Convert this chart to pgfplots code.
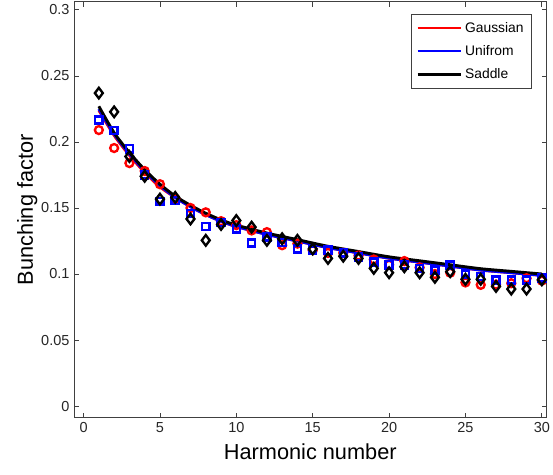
\documentclass[border=0pt]{standalone}
\usepackage{pgfplots}
\pgfplotsset{compat=1.18}
\usepackage{fontspec}
\setmainfont{Liberation Sans}
\begin{document}
\begin{tikzpicture}
\begin{axis}[
  scale only axis,
  width=358.5pt, height=315.75pt,
  xmin=-0.62, xmax=30.3,
  ymin=-0.009, ymax=0.306,
  xtick={0,5,...,30},
  ytick={0,0.05,0.1,0.15,0.2,0.25,0.3},
  /pgf/number format/assume math mode=true,
  yticklabel style={/pgf/number format/fixed,/pgf/number format/precision=2},
  scaled y ticks=false,
  tick align=inside,
  major tick length=3.5pt,
  tick style={black!75, line width=0.6pt},
  axis line style={black!75, line width=0.8pt},
  ticklabel style={font=\fontsize{11}{13}\selectfont, text=black!85},
  xlabel={Harmonic number},
  ylabel={Bunching factor},
  label style={font=\fontsize{16.5}{19}\selectfont},
  xlabel style={yshift=-1.5pt},
  ylabel style={yshift=-4pt},
  legend style={at={(1,1)}, anchor=north east, xshift=-11pt, yshift=-9pt,
    draw=black!75, line width=0.6pt, font=\fontsize{10.5}{12}\selectfont,
    inner xsep=4pt, inner ysep=4pt, row sep=4.5pt, cells={anchor=west}},
  legend image code/.code={\draw[#1, line width=1.6pt] (0cm,0cm) -- (1.17cm,0cm);},
]
% Gaussian circles
\addplot[only marks, mark=o, mark size=3pt, red, line width=1.8pt, forget plot] coordinates {
(1,0.209)(2,0.1954)(3,0.184)(4,0.178)(5,0.168)(6,0.157)(7,0.150)(8,0.1467)(9,0.140)(10,0.137)
(11,0.133)(12,0.1317)(13,0.1218)(14,0.123)(15,0.118)(16,0.116)(17,0.116)(18,0.114)(19,0.111)(20,0.107)
(21,0.1098)(22,0.105)(23,0.100)(24,0.101)(25,0.0936)(26,0.0918)(27,0.092)(28,0.093)(29,0.0968)(30,0.095)};
% Uniform squares
\addplot[only marks, mark=square, mark size=2.7pt, blue, line width=1.8pt, forget plot] coordinates {
(1,0.2166)(2,0.2086)(3,0.1948)(4,0.175)(5,0.155)(6,0.1555)(7,0.146)(8,0.136)(9,0.139)(10,0.134)
(11,0.1235)(12,0.128)(13,0.124)(14,0.119)(15,0.118)(16,0.118)(17,0.116)(18,0.113)(19,0.109)(20,0.107)
(21,0.107)(22,0.104)(23,0.103)(24,0.1068)(25,0.100)(26,0.098)(27,0.0955)(28,0.0955)(29,0.0955)(30,0.097)};
% Saddle diamonds
\addplot[only marks, mark=diamond, mark size=4pt, black, line width=1.8pt, forget plot] coordinates {
(1,0.237)(2,0.2228)(3,0.189)(4,0.174)(5,0.1567)(6,0.158)(7,0.1417)(8,0.1255)(9,0.1375)(10,0.1405)
(11,0.1355)(12,0.1255)(13,0.1267)(14,0.1255)(15,0.119)(16,0.1118)(17,0.1135)(18,0.1118)(19,0.1043)(20,0.101)
(21,0.1055)(22,0.101)(23,0.0975)(24,0.1018)(25,0.096)(26,0.096)(27,0.0906)(28,0.0886)(29,0.0886)(30,0.0956)};
% fitted lines
\addplot[red, line width=2.2pt, smooth, no marks] coordinates {
(1,0.224)(2,0.205)(3,0.190)(4,0.177)(5,0.166)(6,0.158)(7,0.151)(8,0.145)(9,0.140)(10,0.136)
(12,0.130)(14,0.125)(16,0.120)(18,0.116)(20,0.112)(22,0.109)(24,0.106)(26,0.103)(28,0.101)(30,0.099)};
\addlegendentry{Gaussian}
\addplot[blue, line width=2.2pt, smooth, no marks] coordinates {
(1,0.225)(2,0.206)(3,0.191)(4,0.178)(5,0.167)(6,0.158)(7,0.151)(8,0.145)(9,0.140)(10,0.136)
(12,0.130)(14,0.125)(16,0.120)(18,0.116)(20,0.112)(22,0.109)(24,0.106)(26,0.103)(28,0.101)(30,0.099)};
\addlegendentry{Unifrom}
\addplot[black, line width=2.2pt, smooth, no marks] coordinates {
(1,0.227)(2,0.207)(3,0.192)(4,0.179)(5,0.168)(6,0.159)(7,0.152)(8,0.146)(9,0.141)(10,0.137)
(12,0.131)(14,0.126)(16,0.121)(18,0.117)(20,0.113)(22,0.110)(24,0.107)(26,0.104)(28,0.102)(30,0.100)};
\addlegendentry{Saddle}
\end{axis}
\pgfresetboundingbox
\path ([xshift=-56.25pt,yshift=-42.75pt]current axis.south west) rectangle ([xshift=5pt,yshift=1.5pt]current axis.north east);
\end{tikzpicture}
\end{document}
